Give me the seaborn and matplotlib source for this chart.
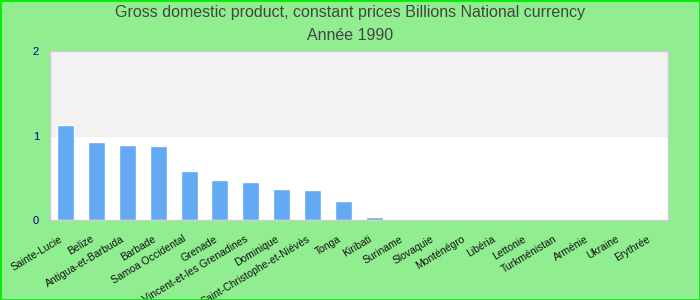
import matplotlib
matplotlib.use("Agg")
import matplotlib.pyplot as plt
import seaborn as sns
import pandas as pd
from matplotlib.patches import Rectangle
from matplotlib.transforms import ScaledTranslation

countries = ["Sainte-Lucie", "Belize", "Antigua-et-Barbuda", "Barbade", "Samoa Occidental",
             "Grenade", "Saint-Vincent-et-les Grenadines", "Dominique", "Saint-Christophe-et-Niévès",
             "Tonga", "Kiribati", "Suriname", "Slovaquie", "Monténégro", "Libéria", "Lettonie",
             "Turkménistan", "Arménie", "Ukraine", "Erythrée"]
values = [1.12, 0.92, 0.89, 0.88, 0.58, 0.47, 0.45, 0.365, 0.35, 0.22, 0.035,
          0, 0, 0, 0, 0, 0, 0, 0, 0]
title_line1 = "Gross domestic product, constant prices Billions National currency"
title_line2 = "Année 1990"
yticks = [0, 1, 2]

sns.set_theme(style="white")
plt.rcParams['font.family'] = ['Liberation Sans', 'DejaVu Sans']

df = pd.DataFrame({"country": countries, "value": values})

fig = plt.figure(figsize=(7, 3), dpi=100, facecolor="#90ee90")
ax = fig.add_axes([50/700, 1-220/300, 618/700, 169/300])
ax.set_facecolor("white")
ax.axhspan(1, 2, color="#f2f2f2", zorder=0)

sns.barplot(data=df, x="country", y="value", color="#63a9f4", width=0.55,
            saturation=1, ax=ax, zorder=2)

ax.set_xlim(-0.5, len(countries) - 0.5)
ax.set_ylim(0, 2)
ax.set_yticks(yticks)
ax.set_yticklabels([str(t) for t in yticks], color="#00008b", fontsize=8)
ax.tick_params(axis="y", length=0, pad=8)
ax.tick_params(axis="x", length=0, pad=10)
ax.set_xticks(range(len(countries)))
ax.set_xticklabels(countries, rotation=31, ha="right", rotation_mode="anchor",
                   fontsize=7.5, color="#111111")
offset = ScaledTranslation(-6/100, 0, fig.dpi_scale_trans)
for lab in ax.get_xticklabels():
    lab.set_transform(lab.get_transform() + offset)
ax.set_xlabel("")
ax.set_ylabel("")
for s in ax.spines.values():
    s.set_color("#cccccc")
    s.set_linewidth(1)

fig.text(0.5, 1-13/300, title_line1, ha="center", va="center", fontsize=11.5, color="#444444")
fig.text(0.5, 1-35/300, title_line2, ha="center", va="center", fontsize=11.5, color="#444444")

fig.patches.append(Rectangle((0, 0), 1, 1, transform=fig.transFigure, fill=False,
                             edgecolor="#00ee00", linewidth=2, zorder=10))

fig.savefig("out.png", dpi=100, facecolor=fig.get_facecolor())
